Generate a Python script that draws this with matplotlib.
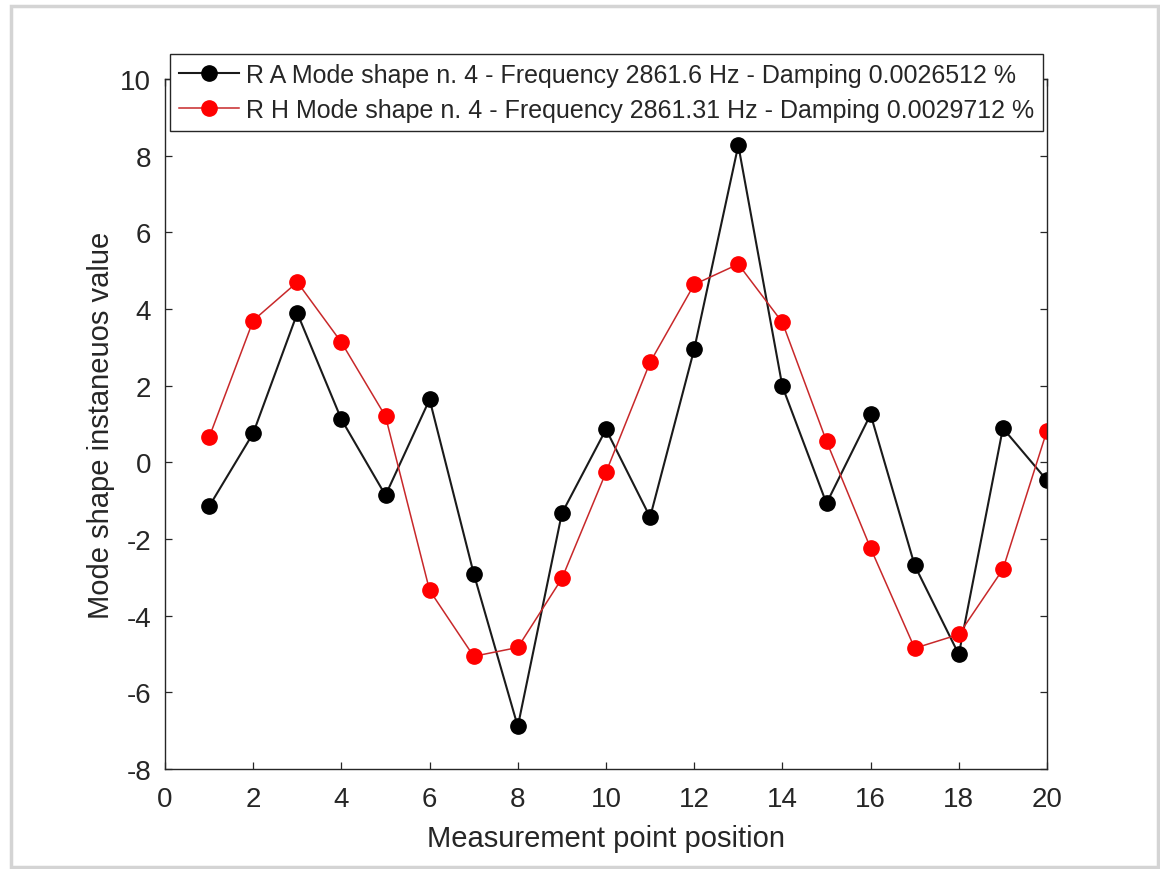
import matplotlib
matplotlib.use("Agg")
import matplotlib.pyplot as plt
from matplotlib.patches import Rectangle

points = list(range(1, 21))
ra_values = [-1.15, 0.76, 3.89, 1.12, -0.86, 1.64, -2.90, -6.89, -1.33, 0.86,
             -1.43, 2.95, 8.27, 1.98, -1.07, 1.25, -2.69, -5.01, 0.89, -0.47]
rh_values = [0.65, 3.70, 4.70, 3.13, 1.20, -3.34, -5.06, -4.83, -3.03, -0.26,
             2.61, 4.64, 5.17, 3.65, 0.55, -2.24, -4.85, -4.49, -2.79, 0.83]

ra_label = 'R A Mode shape n. 4 - Frequency 2861.6 Hz - Damping 0.0026512 %'
rh_label = 'R H Mode shape n. 4 - Frequency 2861.31 Hz - Damping 0.0029712 %'

x_ticks = list(range(0, 21, 2))
y_ticks = list(range(-8, 11, 2))

plt.rcParams['font.family'] = ['Liberation Sans', 'DejaVu Sans']
plt.rcParams['axes.unicode_minus'] = False
txt = '#262626'

fig = plt.figure(figsize=(11.6, 8.7), dpi=100)
# light frame around the picture
fig.patches.append(Rectangle((11 / 1160, 2 / 870), 1147 / 1160, 861 / 870,
                             transform=fig.transFigure, fill=False,
                             edgecolor='#d4d4d4', linewidth=2.5))

ax = fig.add_axes([165 / 1160, 1 - 770 / 870, 882 / 1160, 690 / 870])

ax.plot(points, ra_values, color='#1a1a1a', linewidth=1.5, marker='o',
        markersize=11, markerfacecolor='black', markeredgecolor='black', label=ra_label)
ax.plot(points, rh_values, color='#c8282a', linewidth=1.1, marker='o',
        markersize=11, markerfacecolor='#ff0000', markeredgecolor='#ff0000', label=rh_label)

ax.set_xlim(0, 20)
ax.set_ylim(-8, 10)
ax.set_xticks(x_ticks)
ax.set_yticks(y_ticks)
ax.tick_params(direction='in', length=5, width=0.9, top=True, right=True,
               colors=txt, labelsize=20)
ax.tick_params(axis='x', pad=12)
ax.tick_params(axis='y', pad=10)
for s in ax.spines.values():
    s.set_color(txt)
    s.set_linewidth(1.0)

ax.set_xlabel('Measurement point position', fontsize=21, color=txt, labelpad=9)
ax.set_ylabel('Mode shape instaneuos value', fontsize=21, color=txt, labelpad=4)

leg = ax.legend(loc='upper left', bbox_to_anchor=(5 / 882, 1.036), fontsize=18,
                frameon=True, fancybox=False, framealpha=1, edgecolor=txt,
                borderpad=0.35, labelspacing=0.45, handlelength=2.4,
                handletextpad=0.3, borderaxespad=0)
leg.get_frame().set_linewidth(1.0)
for t in leg.get_texts():
    t.set_color(txt)

fig.savefig('out.png', dpi=100, facecolor='white')
